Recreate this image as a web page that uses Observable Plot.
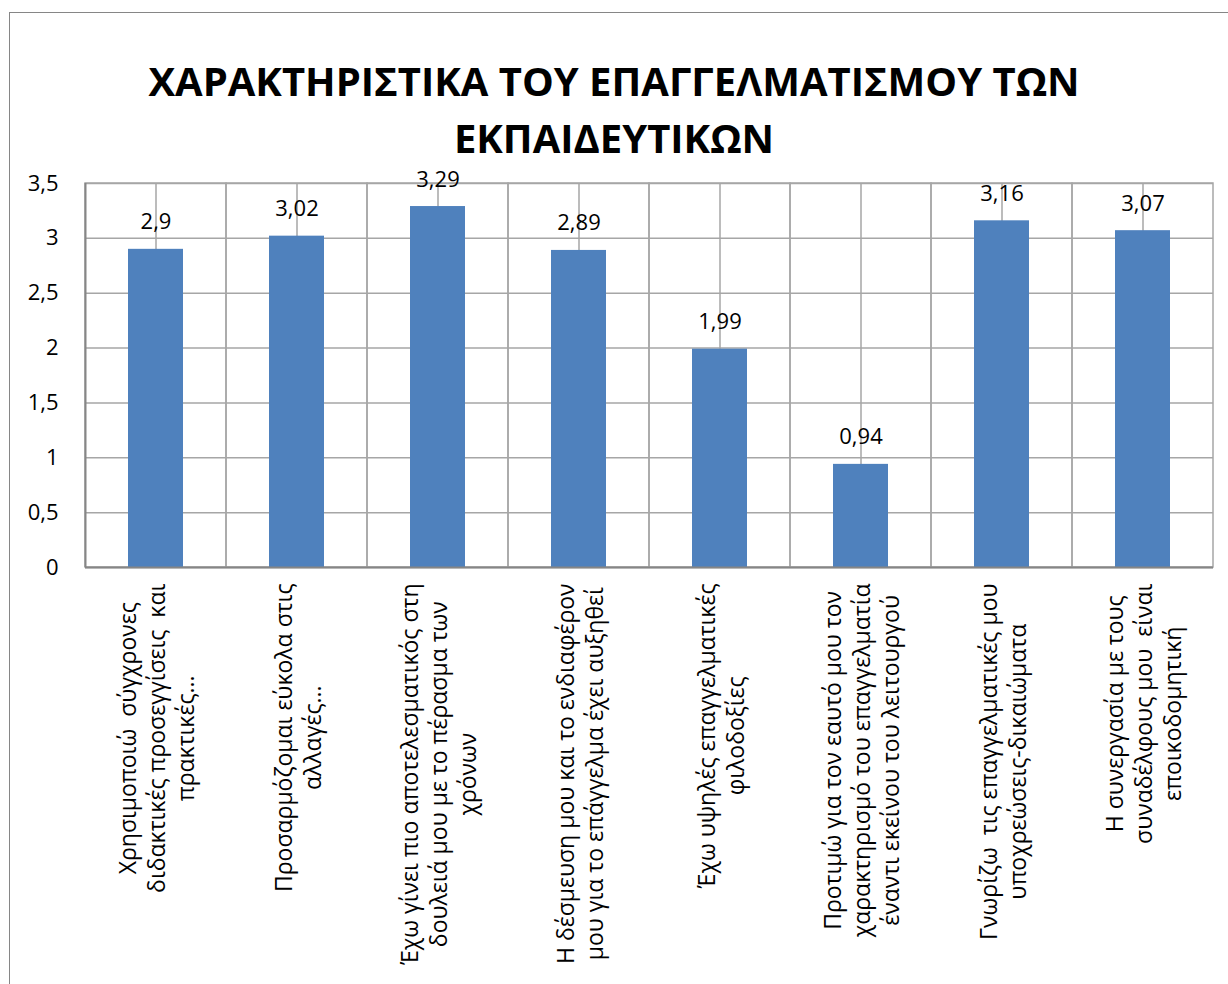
<!DOCTYPE html>
<html>
<head>
<meta charset="utf-8">
<script src="https://cdn.jsdelivr.net/npm/d3@7"></script>
<script src="https://cdn.jsdelivr.net/npm/@observablehq/plot@0.6"></script>
<style>
  html, body { margin: 0; padding: 0; background: #fff; overflow: hidden; }
  body { width: 1228px; height: 984px; position: relative; font-family: "Open Sans", "Noto Sans", sans-serif; }
  #frame { position: absolute; left: 9px; top: 12px; width: 1260px; height: 1000px; border-left: 1.5px solid #868686; border-top: 1.5px solid #868686; }
  #title { position: absolute; left: 0; top: 52px; width: 1228px; text-align: center; font-size: 40px; font-weight: bold; line-height: 57px; color: #000; }
  #chart { position: absolute; left: 0; top: 140px; }
</style>
</head>
<body>
<div id="frame"></div>
<div id="title">ΧΑΡΑΚΤΗΡΙΣΤΙΚΑ ΤΟΥ ΕΠΑΓΓΕΛΜΑΤΙΣΜΟΥ ΤΩΝ<br>ΕΚΠΑΙΔΕΥΤΙΚΩΝ</div>
<div id="chart"></div>
<script>
const categories = [
  "Χρησιμοποιώ  σύγχρονες\nδιδακτικές προσεγγίσεις  και\nπρακτικές...",
  "Προσαρμόζομαι εύκολα στις\nαλλαγές...",
  "Έχω γίνει πιο αποτελεσματικός στη\nδουλειά μου με το πέρασμα των\nχρόνων",
  "Η δέσμευση μου και το ενδιαφέρον\nμου για το επάγγελμα έχει αυξηθεί",
  "Έχω υψηλές επαγγελματικές\nφιλοδοξίες",
  "Προτιμώ για τον εαυτό μου τον\nχαρακτηρισμό του επαγγελματία\nέναντι εκείνου του λειτουργού",
  "Γνωρίζω  τις επαγγελματικές μου\nυποχρεώσεις-δικαιώματα",
  "Η συνεργασία με τους\nσυναδέλφους μου  είναι\nεποικοδομητική"
];
const values = [2.9, 3.02, 3.29, 2.89, 1.99, 0.94, 3.16, 3.07];
const yTicks = [0, 0.5, 1, 1.5, 2, 2.5, 3, 3.5];

const data = categories.map((c, i) => ({category: c, value: values[i]}));
const comma = v => String(v).replace(".", ",");
const yMax = yTicks[yTicks.length - 1];
const gridColor = "#a6a6a6";
const axisColor = "#868686";

const svg = Plot.plot({
  width: 1228,
  height: 844,
  marginLeft: 85,
  marginRight: 15,
  marginTop: 43,
  marginBottom: 417,
  style: {fontFamily: "'Open Sans', 'Noto Sans', sans-serif", background: "transparent"},
  x: {domain: categories, padding: 0, axis: null},
  y: {domain: [0, yMax], ticks: yTicks, axis: null},
  marks: [
    Plot.gridY(yTicks, {stroke: gridColor, strokeOpacity: 1, strokeWidth: 1.5}),
    Plot.ruleX(categories, {x: d => d, y1: 0, y2: yMax, stroke: gridColor, strokeWidth: 1.5}),
    Plot.barY(categories, {x: d => d, y1: 0, y2: yMax, fill: "none", stroke: gridColor, strokeWidth: 1.5}),
    Plot.barY(data, {x: "category", y: "value", fill: "#4f81bd", insetLeft: 43, insetRight: 43}),
    Plot.ruleY([0], {stroke: axisColor, strokeWidth: 2}),
    Plot.ruleX([categories[0]], {x: d => d, y1: 0, y2: yMax, stroke: axisColor, strokeWidth: 2, dx: -70.5}),
    Plot.axisY({ticks: yTicks, tickSize: 0, tickPadding: 27, tickFormat: comma, fontSize: 22, fill: "#000", label: null}),
    Plot.text(data, {x: "category", y: "value", text: d => comma(d.value), dy: -27, fontSize: 22, fill: "#000"}),
    Plot.text(categories, {x: d => d, frameAnchor: "bottom", rotate: -90, textAnchor: "middle", lineAnchor: "middle", lineHeight: 1.26, fontSize: 23, fill: "#000", className: "xlab"})
  ]
});
document.getElementById("chart").appendChild(svg);

// anchor each rotated label block so its top (longest line end) sits just below the axis
d3.select(svg).selectAll("g.xlab text").each(function() {
  const bb = this.getBBox();
  const shift = 16 + bb.x + bb.width;
  const t = this.getAttribute("transform") || "";
  this.setAttribute("transform", `translate(0,${shift}) ` + t);
});
</script>
</body>
</html>
